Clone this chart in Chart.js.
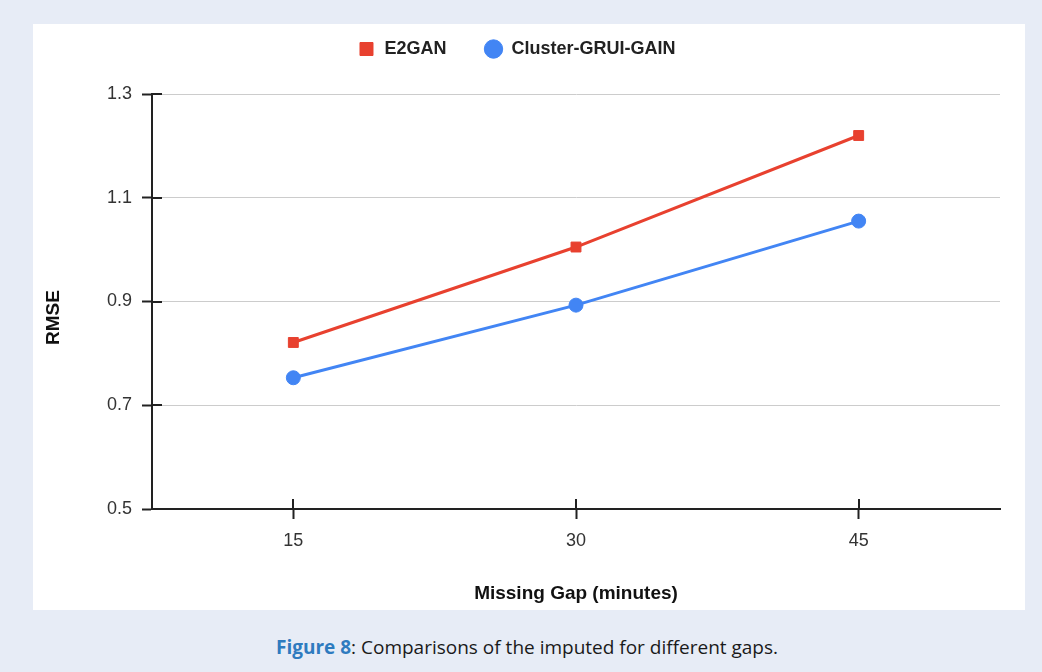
<!DOCTYPE html>
<html><head><meta charset="utf-8">
<script src="https://cdn.jsdelivr.net/npm/chart.js@4"></script>
<style>
html,body{margin:0;padding:0;background:#e7ecf6;width:1042px;height:672px;overflow:hidden}
#panel{position:absolute;left:33px;top:24px;width:992px;height:586px;background:#fff}
#caption{position:absolute;left:6px;top:634px;width:1042px;text-align:center;font-family:"Open Sans",sans-serif;font-size:19px;line-height:26px;color:#1a1a1a}
#caption b{color:#2e7bbf;font-weight:700}
</style></head><body>
<div id="panel"><canvas id="c" width="992" height="586"></canvas></div>
<div id="caption"><b>Figure 8</b>: Comparisons of the imputed for different gaps.</div>
<script>
const categories = ['15', '30', '45'];
const e2gan = [0.821, 1.005, 1.220];
const clusterGruiGain = [0.753, 0.893, 1.055];
const yTicks = [0.5, 0.7, 0.9, 1.1, 1.3];
const seriesNames = ['E2GAN', 'Cluster-GRUI-GAIN'];
const xTitle = 'Missing Gap (minutes)';
const yTitle = 'RMSE';

const FONT = '"Liberation Sans", Arial, sans-serif';
const RED = '#e8412f';
const BLUE = '#4285f4';
const AXIS = '#222';

const crossTicks = {
  id: 'crossTicks',
  beforeDatasetsDraw(chart) {
    const ctx = chart.ctx, xs = chart.scales.x, ys = chart.scales.y;
    ctx.save();
    ctx.strokeStyle = AXIS;
    ctx.lineWidth = 2;
    ctx.beginPath();
    ys.ticks.forEach((t, i) => {
      const p = Math.round(ys.getPixelForTick(i));
      ctx.moveTo(ys.right, p); ctx.lineTo(ys.right + 10, p);
    });
    xs.ticks.forEach((t, i) => {
      const p = Math.round(xs.getPixelForTick(i));
      ctx.moveTo(p, xs.top); ctx.lineTo(p, xs.top - 10);
    });
    ctx.stroke();
    // y-axis title, slightly below the vertical centre as in the reference
    const a = chart.chartArea;
    ctx.translate(ys.left + 21, (a.top + a.bottom) / 2 + 16);
    ctx.rotate(-Math.PI / 2);
    ctx.fillStyle = '#111';
    ctx.font = 'bold 19px ' + FONT;
    ctx.textAlign = 'center';
    ctx.textBaseline = 'middle';
    ctx.fillText(yTitle, 0, 0);
    ctx.restore();
  }
};

new Chart(document.getElementById('c'), {
  type: 'line',
  data: {
    labels: categories,
    datasets: [
      { label: seriesNames[0], data: e2gan, borderColor: RED, backgroundColor: RED,
        pointBackgroundColor: RED, pointBorderColor: RED, pointStyle: 'rect',
        pointRadius: 7, pointBorderWidth: 1, borderWidth: 3, tension: 0 },
      { label: seriesNames[1], data: clusterGruiGain, borderColor: BLUE, backgroundColor: BLUE,
        pointBackgroundColor: BLUE, pointBorderColor: BLUE, pointStyle: 'circle',
        pointRadius: 7, pointBorderWidth: 1, borderWidth: 3, tension: 0 }
    ]
  },
  options: {
    responsive: false,
    maintainAspectRatio: false,
    animation: false,
    layout: { padding: { top: -22, right: 25, bottom: 0, left: 0 } },
    plugins: {
      legend: {
        position: 'top',
        labels: {
          usePointStyle: true, boxHeight: 13, boxWidth: 18, padding: 38,
          color: '#222', font: { family: FONT, size: 18, weight: 'bold' }
        }
      },
      subtitle: { display: true, text: '', weight: 500, position: 'top',
        font: { size: 10 }, padding: { top: 0, bottom: 14 } },
      tooltip: { enabled: false }
    },
    scales: {
      x: {
        type: 'category',
        offset: true,
        grid: { display: true, drawOnChartArea: false, drawTicks: true, tickLength: 10,
          offset: false, tickColor: AXIS, tickWidth: 2 },
        border: { display: true, color: AXIS, width: 2 },
        ticks: { color: '#333', padding: 11, font: { family: FONT, size: 18 } },
        title: { display: true, text: xTitle, color: '#111',
          font: { family: FONT, size: 19, weight: 'bold' }, padding: { top: 0, bottom: 5 } },
        afterFit(s) { s.height = 101; }
      },
      y: {
        min: 0.5, max: 1.3,
        afterBuildTicks(s) { s.ticks = yTicks.map(v => ({ value: v })); },
        grid: { color: '#cccccc', lineWidth: 1, tickLength: 10, tickColor: AXIS, tickWidth: 2 },
        border: { display: true, color: AXIS, width: 2 },
        ticks: { color: '#333', padding: 10, font: { family: FONT, size: 18 },
          callback: v => Number(v).toFixed(1) },
        title: { display: false, text: yTitle },
        afterFit(s) { s.width = 119; }
      }
    }
  },
  plugins: [crossTicks]
});
</script>
</body></html>
